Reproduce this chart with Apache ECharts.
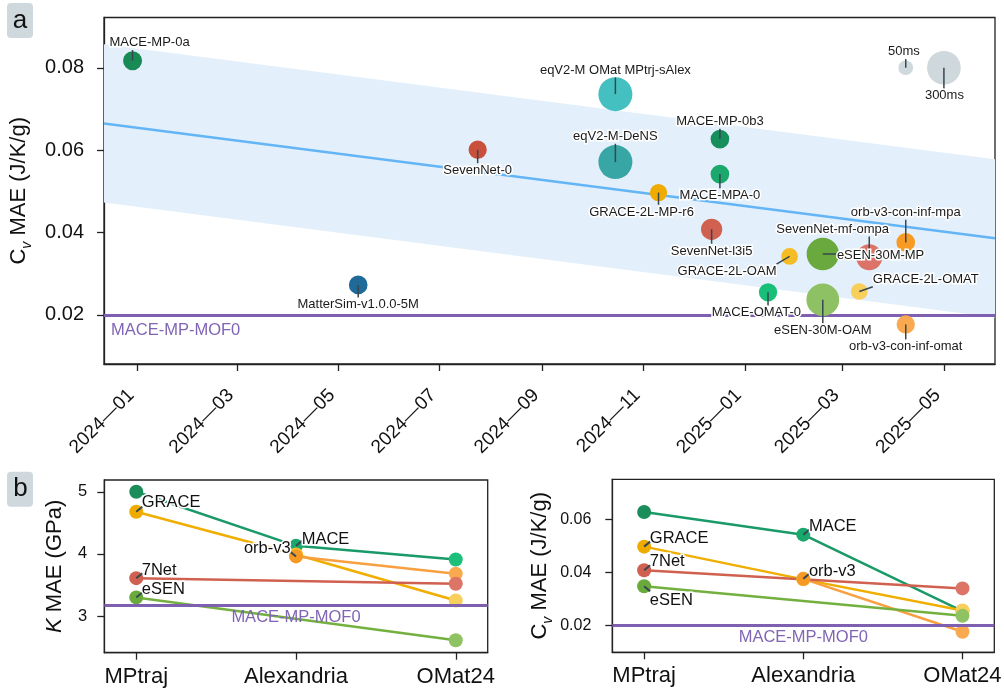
<!DOCTYPE html>
<html><head><meta charset="utf-8">
<script src="https://cdn.jsdelivr.net/npm/echarts@6/dist/echarts.min.js"></script>
<style>html,body{margin:0;padding:0;background:#fff}#c{width:1004px;height:692px}</style>
</head><body><div id="c"></div>
<script>
const FONT = '"Liberation Sans", Arial, Helvetica, sans-serif';

// ---------- Panel a data ----------
const models = ['MACE-MP-0a','eqV2-M OMat MPtrj-sAlex','eqV2-M-DeNS','SevenNet-0','MatterSim-v1.0.0-5M','GRACE-2L-MP-r6','MACE-MP-0b3','MACE-MPA-0','SevenNet-l3i5','GRACE-2L-OAM','eSEN-30M-MP','SevenNet-mf-ompa','orb-v3-con-inf-mpa','GRACE-2L-OMAT','MACE-OMAT-0','eSEN-30M-OAM','orb-v3-con-inf-omat'];
const releaseDates = ['2023-12-29','2024-10-15','2024-10-15','2024-07-24','2024-05-13','2024-11-10','2024-12-17','2024-12-17','2024-12-12','2025-01-28','2025-02-17','2025-03-17','2025-04-08','2025-03-11','2025-01-15','2025-02-17','2025-04-08'];
const cvMAE = [0.0817,0.0736,0.0571,0.0601,0.0273,0.0497,0.0627,0.0542,0.0408,0.0342,0.0348,0.0340,0.0376,0.0257,0.0255,0.0237,0.0177];
const timePerAtomMs = [87,306,306,80,84,71,84,84,111,66,274,172,84,66,80,281,80];
const sizeLegendNames = ['50ms','300ms'];
const sizeLegendTimes = [50,300];
const sizeLegendDates = ['2025-04-08','2025-05-01'];
const sizeLegendValues = [0.080,0.080];
const trendDates = ['2023-12-11T19:00:00Z','2025-05-31T19:00:00Z'];
const trendValues = [0.0665,0.0386];
const bandHalfWidth = 0.0192;
const mof0Cv = 0.0197;
const dateTicks = ['2024-01-01','2024-03-01','2024-05-01','2024-07-01','2024-09-01','2024-11-01','2025-01-01','2025-03-01','2025-05-01'];
const cvTicks = [0.02,0.04,0.06,0.08];

// ---------- Panel b data ----------
const datasets = ['MPtraj','Alexandria','OMat24'];
const families = ['MACE','GRACE','orb-v3','7Net','eSEN'];
const kMAE = {
  'MACE':  [5.00, 4.13, 3.91],
  'GRACE': [4.68, 3.99, 3.25],
  'orb-v3':[null, 3.96, 3.68],
  '7Net':  [3.61, null, 3.52],
  'eSEN':  [3.30, null, 2.61]
};
const cvMAEByDataset = {
  'MACE':  [0.0627, 0.0542, 0.0255],
  'GRACE': [0.0497, 0.0374, 0.0257],
  'orb-v3':[null, 0.0376, 0.0177],
  '7Net':  [0.0408, null, 0.0340],
  'eSEN':  [0.0348, null, 0.0237]
};
const mof0K = 3.17;
const kTicks = [3,4,5];
const cvTicksB = [0.02,0.04,0.06];

// ---------- styles ----------
const bubbleColors = ['#178a55','#45c0c0','#38a6a4','#c9503c','#1f6a99','#f0ab00','#178f5c','#1aa86c','#d0604f','#f5bd25','#6aa93d','#db7368','#f89b25','#f8cf5a','#17bf78','#8dc163','#f9aa50'];
const legendColors = ['#cfd8dc','#cfd8dc'];
const bubbleLabelOffsets = [[17,-18],[0,-24],[0,-25.6],[0,20.7],[0,20],[-17,19.5],[0,-17.6],[0,21.4],[0,21.7],[-62.6,15],[57.8,1],[-36.6,-28],[0,-30],[66.5,-12],[-11.6,20.6],[0,30.7],[0,22.3]];
const legendLabelOffsets = [[-1.8,-16],[0.5,28]];
const familyLineColors = {'MACE':'#1a9a68','GRACE':'#f0ae00','orb-v3':'#f8a040','7Net':'#d0604f','eSEN':'#74b040'};
const familyMarkerColors = {
  'MACE':['#1b8d5a','#1aa86c','#1dbf7a'],
  'GRACE':['#f0ab00','#f5bd25','#f8cf5a'],
  'orb-v3':[null,'#f79a25','#f9aa50'],
  '7Net':['#d0604f',null,'#dc7468'],
  'eSEN':['#6aaa3c',null,'#8ec262']
};
// label anchors (family, dataset index) and layout for panel b
const kLabelAnchors = [['GRACE',0],['MACE',1],['orb-v3',1],['7Net',0],['eSEN',0]];
const kLabelLayout = [[5.5,-9,'left',6,-5],[5.7,-6,'left',6,-5],[-5.3,-8,'right',-6,-5],[5.5,-8,'left',6,-5],[5.5,-8,'left',6,-5]];
const cvLabelAnchors = [['MACE',1],['GRACE',0],['7Net',0],['orb-v3',1],['eSEN',0]];
const cvLabelLayout = [[5.6,-8.3,'left',6,-5],[5.7,-8.4,'left',6,-5],[5.7,-8.7,'left',6,-5],[5.6,-7.3,'left',6,-5],[5.7,13.7,'left',6,5]];

const MOF_COLOR = '#7e5fb0';
const MOF_TEXT = '#8065b5';
const AX = '#222';

const toMs = s => Date.parse(s.length > 10 ? s : s + 'T00:00:00Z');
const ctx = document.createElement('canvas').getContext('2d');
function textW(t, size){ ctx.font = size + 'px ' + FONT; return ctx.measureText(t).width; }
function bubbleDiameter(t){ return 14.7 * Math.pow(t / 50, 0.463); }
function fmtDate(v){ const d = new Date(v); return d.getUTCFullYear() + '\u2014' + String(d.getUTCMonth() + 1).padStart(2, '0'); }

function bubbleSeries(names, dates, values, times, colors, offsets){
  return {
    type:'custom', xAxisIndex:0, yAxisIndex:0, clip:false, silent:true, z:5,
    data: names.map((n,i)=>[toMs(dates[i]), values[i], times[i]]),
    renderItem(params, api){
      const i = params.dataIndex;
      const p = api.coord([api.value(0), api.value(1)]);
      const r = bubbleDiameter(api.value(2)) / 2;
      const cx = p[0] + offsets[i][0], cy = p[1] + offsets[i][1];
      const w = textW(names[i], 13), h = 14.6;
      const ex = Math.min(Math.max(p[0], cx - w/2), cx + w/2);
      const ey = Math.min(Math.max(p[1], cy - h/2), cy + h/2);
      return {type:'group', children:[
        {type:'circle', shape:{cx:p[0], cy:p[1], r:r}, style:{fill:colors[i]}, z2:1},
        {type:'line', shape:{x1:p[0], y1:p[1], x2:ex, y2:ey}, style:{stroke:'#37474f', lineWidth:1.5}, z2:5},
        {type:'text', z2:10, style:{x:cx, y:cy, text:names[i], fill:'#1a1a1a', stroke:'#fff', lineWidth:3, font:'13px ' + FONT, align:'center', verticalAlign:'middle', textAlign:'center', textVerticalAlign:'middle'}}
      ]};
    }
  };
}

function familySeries(valuesByFamily, gi, mark){
  return families.map((f, k) => {
    const vals = valuesByFamily[f];
    const data = [];
    vals.forEach((v, i) => { if (v != null) data.push({value:[i, v], itemStyle:{color: familyMarkerColors[f][i]}}); });
    const s = {
      type:'line', xAxisIndex:gi, yAxisIndex:gi, data, symbol:'circle', symbolSize:14, showSymbol:true,
      lineStyle:{color: familyLineColors[f], width:2.5}, itemStyle:{color: familyLineColors[f]},
      silent:true, z:3, emphasis:{disabled:true}
    };
    if (k === 0 && mark) s.markLine = mark;
    return s;
  });
}

function familyLabelSeries(valuesByFamily, anchors, layout, gi){
  return {
    type:'custom', xAxisIndex:gi, yAxisIndex:gi, clip:false, silent:true, z:6,
    data: anchors.map(a => [a[1], valuesByFamily[a[0]][a[1]]]),
    renderItem(params, api){
      const i = params.dataIndex;
      const p = api.coord([api.value(0), api.value(1)]);
      const L = layout[i];
      return {type:'group', children:[
        {type:'line', shape:{x1:p[0], y1:p[1], x2:p[0] + L[3], y2:p[1] + L[4]}, style:{stroke:'#37474f', lineWidth:2}, z2:5},
        {type:'text', z2:10, style:{x:p[0] + L[0], y:p[1] + L[1], text:anchors[i][0], fill:'#111', stroke:'#fff', lineWidth:3, font:'16.5px ' + FONT, align:L[2], verticalAlign:'middle', textAlign:L[2], textVerticalAlign:'middle'}}
      ]};
    }
  };
}

function mofMark(value, position, distance){
  return {
    symbol:'none', silent:true, animation:false,
    lineStyle:{color:MOF_COLOR, width:3, type:'solid'},
    label:{show:true, position:position, formatter:'MACE-MP-MOF0', color:MOF_TEXT, fontSize:16.5, fontFamily:FONT, distance:distance},
    data:[{yAxis:value}]
  };
}

const axLine = {show:true, onZero:false, lineStyle:{color:AX, width:1.3}};
const tick = vals => ({show:true, length:7, customValues:vals, lineStyle:{color:AX, width:1.3}});
const subRich = {
  a:{fontSize:22, fontFamily:FONT, color:'#111', verticalAlign:'bottom', padding:[0,0,4,0]},
  s:{fontSize:14, fontStyle:'italic', fontFamily:FONT, color:'#111', verticalAlign:'bottom'}
};

const xMin = toMs(trendDates[0]), xMax = toMs(trendDates[1]);
const dateTickMs = dateTicks.map(toMs);

const option = {
  animation:false,
  backgroundColor:'#fff',
  textStyle:{fontFamily:FONT},
  grid:[
    {left:104, top:17.5, width:891, height:346.5, show:true, borderColor:AX, borderWidth:1.3, outerBoundsMode:'none', containLabel:false},
    {left:104.3, top:480, width:383.4, height:172.7, show:true, borderColor:AX, borderWidth:1.3, outerBoundsMode:'none', containLabel:false},
    {left:612.3, top:479.3, width:382, height:173, show:true, borderColor:AX, borderWidth:1.3, outerBoundsMode:'none', containLabel:false}
  ],
  xAxis:[
    {type:'value', gridIndex:0, min:xMin, max:xMax, axisLine:axLine, axisTick:tick(dateTickMs), splitLine:{show:false},
     axisLabel:{customValues:dateTickMs, rotate:45, margin:22, padding:[0,9,0,0], fontSize:19, color:'#111', fontFamily:FONT, formatter:fmtDate}},
    {type:'value', gridIndex:1, min:-0.2, max:2.2, axisLine:axLine, axisTick:tick([0,1,2]), splitLine:{show:false},
     axisLabel:{customValues:[0,1,2], fontSize:22, margin:13, color:'#111', fontFamily:FONT, formatter:v => datasets[Math.round(v)]}},
    {type:'value', gridIndex:2, min:-0.2, max:2.2, axisLine:axLine, axisTick:tick([0,1,2]), splitLine:{show:false},
     axisLabel:{customValues:[0,1,2], fontSize:22, margin:13, color:'#111', fontFamily:FONT, formatter:v => datasets[Math.round(v)]}}
  ],
  yAxis:[
    {type:'value', gridIndex:0, min:0.0081, max:0.0922, axisLine:axLine, axisTick:tick(cvTicks), splitLine:{show:false},
     axisLabel:{customValues:cvTicks, fontSize:20, margin:20, color:'#111', fontFamily:FONT, formatter:v => v.toFixed(2)},
     name:'{a|C}{s|v}{a| MAE (J/K/g)}', nameLocation:'middle', nameGap:62,
     nameTextStyle:{rich:subRich}},
    {type:'value', gridIndex:1, min:2.41, max:5.19, axisLine:axLine, axisTick:tick(kTicks), splitLine:{show:false},
     axisLabel:{customValues:kTicks, fontSize:16.5, margin:17, color:'#111', fontFamily:FONT, formatter:v => String(v)},
     name:'{i|K}{a| MAE (GPa)}', nameLocation:'middle', nameGap:38,
     nameTextStyle:{rich:{a:{fontSize:22, fontFamily:FONT, color:'#111'}, i:{fontSize:22, fontStyle:'italic', fontFamily:FONT, color:'#111'}}}},
    {type:'value', gridIndex:2, min:0.010, max:0.075, axisLine:axLine, axisTick:tick(cvTicksB), splitLine:{show:false},
     axisLabel:{customValues:cvTicksB, fontSize:16, margin:21, color:'#111', fontFamily:FONT, formatter:v => v.toFixed(2)},
     name:'{a|C}{s|v}{a| MAE (J/K/g)}', nameLocation:'middle', nameGap:57,
     nameTextStyle:{rich:subRich}}
  ],
  graphic:[
    {type:'rect', left:7, top:3, shape:{width:26, height:35, r:4}, style:{fill:'#cfd8dc'}},
    {type:'text', x:20, y:21, style:{text:'a', font:'26px ' + FONT, fill:'#111', align:'center', verticalAlign:'middle', textAlign:'center', textVerticalAlign:'middle'}},
    {type:'rect', left:7, top:471.7, shape:{width:26, height:35, r:4}, style:{fill:'#cfd8dc'}},
    {type:'text', x:20.5, y:489, style:{text:'b', font:'26px ' + FONT, fill:'#111', align:'center', verticalAlign:'middle', textAlign:'center', textVerticalAlign:'middle'}}
  ],
  series:[
    {type:'custom', xAxisIndex:0, yAxisIndex:0, silent:true, z:1, clip:true, data:[0],
     renderItem(params, api){
       const x0 = toMs(trendDates[0]), x1 = toMs(trendDates[1]);
       const pts = [
         api.coord([x0, trendValues[0] + bandHalfWidth]), api.coord([x1, trendValues[1] + bandHalfWidth]),
         api.coord([x1, trendValues[1] - bandHalfWidth]), api.coord([x0, trendValues[0] - bandHalfWidth])
       ];
       return {type:'polygon', shape:{points:pts}, style:{fill:'#e3f0fb'}};
     }},
    {type:'line', xAxisIndex:0, yAxisIndex:0, silent:true, z:2, showSymbol:false, symbol:'none',
     data:trendDates.map((d,i)=>[toMs(d), trendValues[i]]),
     lineStyle:{color:'#64b5f6', width:2.5},
     markLine: mofMark(mof0Cv, 'insideStartBottom', [7, 7])},
    bubbleSeries(models, releaseDates, cvMAE, timePerAtomMs, bubbleColors, bubbleLabelOffsets),
    bubbleSeries(sizeLegendNames, sizeLegendDates, sizeLegendValues, sizeLegendTimes, legendColors, legendLabelOffsets),
    ...familySeries(kMAE, 1, mofMark(mof0K, 'insideMiddleBottom', 3)),
    familyLabelSeries(kMAE, kLabelAnchors, kLabelLayout, 1),
    ...familySeries(cvMAEByDataset, 2, mofMark(mof0Cv, 'insideMiddleBottom', 3)),
    familyLabelSeries(cvMAEByDataset, cvLabelAnchors, cvLabelLayout, 2)
  ]
};
const chart = echarts.init(document.getElementById('c'));
chart.setOption(option);
</script></body></html>
